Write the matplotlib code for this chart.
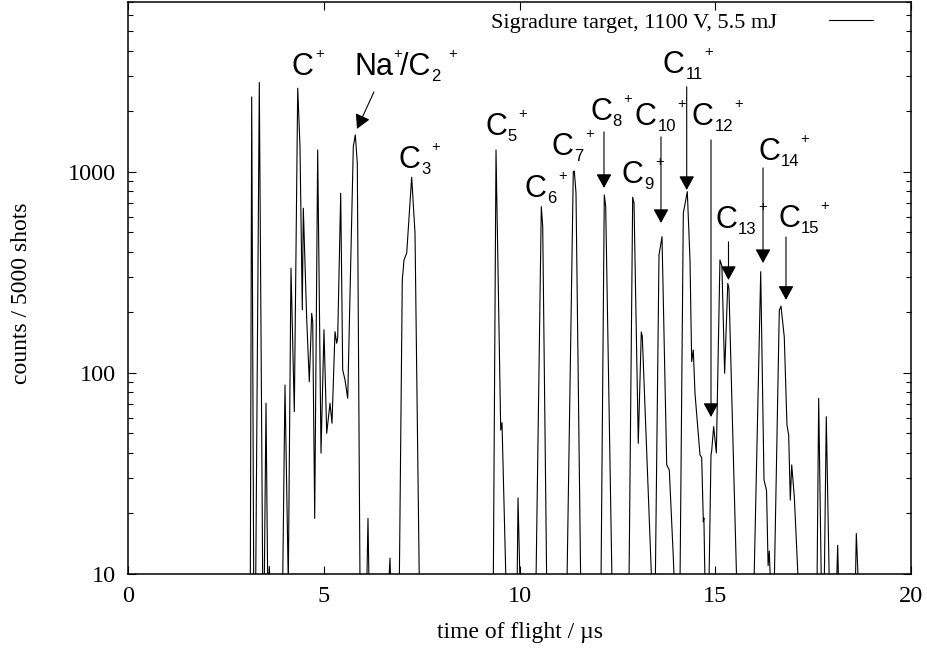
import matplotlib
matplotlib.use("Agg")
import matplotlib.pyplot as plt
from matplotlib.ticker import FixedLocator, LogLocator, NullFormatter
from matplotlib.transforms import ScaledTranslation

# Time-of-flight spectrum (µs, counts per 5000 shots); 9 marks the empty baseline
time_us = [
    0.0, 3.124, 3.160, 3.211, 3.262, 3.354, 3.441, 3.481, 3.525, 3.568,
    3.589, 3.609, 3.627, 3.951, 4.010, 4.094, 4.163, 4.248, 4.335, 4.393,
    4.452, 4.478, 4.565, 4.631, 4.692, 4.718, 4.769, 4.845, 4.930, 5.006,
    5.075, 5.160, 5.211, 5.287, 5.331, 5.356, 5.433, 5.484, 5.543, 5.612,
    5.755, 5.806, 5.857, 5.926, 6.100, 6.130, 6.156, 6.660, 6.692, 6.710,
    6.930, 7.006, 7.050, 7.119, 7.246, 7.331, 7.441, 9.331, 9.400, 9.520,
    9.553, 9.655, 9.940, 9.962, 10.013, 10.421, 10.557, 10.593, 10.695, 11.213,
    11.374, 11.400, 11.443, 11.563, 12.082, 12.166, 12.202, 12.363, 12.797, 12.891,
    12.925, 13.034, 13.111, 13.137, 13.377, 13.469, 13.563, 13.640, 13.760, 13.826,
    13.928, 13.954, 14.100, 14.184, 14.286, 14.355, 14.398, 14.439, 14.483, 14.610,
    14.654, 14.695, 14.710, 14.738, 14.840, 14.891, 14.909, 14.959, 15.028, 15.120,
    15.170, 15.240, 15.320, 15.350, 15.548, 15.990, 16.161, 16.245, 16.310, 16.350,
    16.380, 16.410, 16.508, 16.636, 16.679, 16.763, 16.832, 16.876, 16.917, 16.953,
    17.019, 17.121, 17.600, 17.642, 17.709, 17.785, 17.836, 17.913, 18.100, 18.127,
    18.150, 18.580, 18.603, 18.654, 20.0,
]
counts = [
    9, 9, 2361, 9, 9, 2782, 9, 9, 70.7, 9,
    9, 10.9, 9, 9, 87.1, 9, 332, 64.2, 2608, 1336,
    206, 660, 184, 90.5, 198, 180, 18.9, 1286, 39.9, 164,
    50.1, 70.7, 56.2, 160.5, 140.5, 150, 783, 103.5, 92.3, 74.8,
    1336, 1528, 1105, 9, 9, 18.9, 9, 9, 12.0, 9,
    9, 290, 365, 395, 941, 497, 9, 9, 1286, 52.0,
    56.6, 9, 9, 23.9, 9, 9, 672, 535, 9, 9,
    1003, 1010, 787, 9, 9, 769, 671, 9, 9, 748,
    701, 44.7, 160, 151.5, 9, 9, 386, 476, 34.9, 32.9,
    12.2, 9, 9, 623, 798, 365, 113.8, 130, 79, 39.1,
    38, 18.2, 19, 9, 9, 39, 41, 54.1, 40, 365,
    340, 99.7, 279, 262, 9, 9, 319, 29.4, 26, 11,
    13, 9, 9, 205, 215, 151, 55, 49, 23.3, 34.9,
    24.3, 9, 9, 74.8, 9, 9, 60.6, 9, 9, 13.9,
    9, 9, 15.9, 9, 9,
]

series_label = "Sigradure target, 1100 V, 5.5 mJ"
x_ticks = [0, 5, 10, 15, 20]
y_ticks = [10, 100, 1000]
y_tick_labels = ["10", "100", "1000"]

# Ion labels: (time, counts) of the label baseline, pieces of (text, role, gap in pt)
ion_labels = [
    (4.189, 3040, [("C", "m", 0), ("+", "p", 0.8)]),
    (5.798, 3040, [("Na", "m", 0), ("+", "p", -0.7), ("/C", "m", -1.0),
                   ("2", "b", 0.2), ("+", "p", 5.6)]),
    (6.909, 1047, [("C", "m", 0), ("3", "b", 0.4), ("+", "p", 1.1)]),
    (9.119, 1528, [("C", "m", 0), ("5", "b", 0.4), ("+", "p", 1.1)]),
    (10.140, 751, [("C", "m", 0), ("6", "b", 0.4), ("+", "p", 1.1)]),
    (10.830, 1216, [("C", "m", 0), ("7", "b", 0.4), ("+", "p", 1.1)]),
    (11.801, 1815, [("C", "m", 0), ("8", "b", 0.4), ("+", "p", 1.1)]),
    (12.618, 881, [("C", "m", 0), ("9", "b", 0.4), ("+", "p", 1.1)]),
    (12.950, 1714, [("C", "m", 0), ("10", "b", 0.4), ("+", "p", 1.1)]),
    (13.665, 3114, [("C", "m", 0), ("11", "b", 0.4), ("+", "p", 1.1)]),
    (14.406, 1714, [("C", "m", 0), ("12", "b", 0.4), ("+", "p", 1.1)]),
    (15.006, 526, [("C", "m", 0), ("13", "b", 0.4), ("+", "p", 1.1)]),
    (16.092, 1148, [("C", "m", 0), ("14", "b", 0.4), ("+", "p", 1.1)]),
    (16.603, 532, [("C", "m", 0), ("15", "b", 0.4), ("+", "p", 1.1)]),
]

# Arrows: start (time, counts) -> tip (time, counts)
arrows = [
    ((6.283, 2501), (5.849, 1637)),
    ((12.158, 1581), (12.158, 832)),
    ((13.614, 1493), (13.614, 557)),
    ((14.271, 2649), (14.271, 813)),
    ((14.891, 1443), (14.891, 60.4)),
    ((15.338, 449), (15.338, 290)),
    ((16.220, 1047), (16.220, 352)),
    ((16.807, 475), (16.807, 231)),
]

SERIF = "Liberation Serif"
SANS = "Liberation Sans"
SIZE = {"m": 22, "b": 12, "p": 10.5}
RISE = {"m": 0.0, "b": -4.3, "p": 12.1}

fig = plt.figure(figsize=(9.28, 6.53), dpi=100)
ax = fig.add_axes([128 / 928, 1 - 574 / 653, 783 / 928, 572 / 653])

ax.plot(time_us, counts, color="black", lw=0.8, label=series_label)
ax.set_yscale("log")
ax.set_xlim(0, 20)
ax.set_ylim(10, 7000)

ax.xaxis.set_major_locator(FixedLocator(x_ticks))
ax.set_xticklabels([str(v) for v in x_ticks])
ax.yaxis.set_major_locator(FixedLocator(y_ticks))
ax.set_yticklabels(y_tick_labels)
ax.yaxis.set_minor_locator(LogLocator(base=10, subs=range(2, 10)))
ax.yaxis.set_minor_formatter(NullFormatter())
ax.tick_params(which="both", direction="in", top=True, right=True, width=0.8)
ax.tick_params(which="major", length=6, pad=9, labelsize=17.5)
ax.tick_params(which="minor", length=3.5)
for lab in ax.get_xticklabels() + ax.get_yticklabels():
    lab.set_family(SERIF)
for sp in ax.spines.values():
    sp.set_linewidth(1.1)

ax.set_xlabel("time of flight / µs", family=SERIF, fontsize=17)
ax.set_ylabel("counts / 5000 shots", family=SERIF, fontsize=17)
ax.xaxis.set_label_coords(0.5006, -0.084)
ax.yaxis.set_label_coords(-0.122, 0.49)

leg = ax.legend(loc="center right", bbox_to_anchor=((873 - 128) / 783, 1 - 21 / 572),
                frameon=False, markerfirst=False, borderaxespad=0, borderpad=0,
                handlelength=2.0, handletextpad=2.3, prop={"family": SERIF, "size": 16})
for line in leg.get_lines():
    line.set_linewidth(0.8)

renderer = fig.canvas.get_renderer()


def ion_label(x, y, parts):
    dx = 0.0
    for text, role, gap in parts:
        dx += gap
        shift = ScaledTranslation(dx / 72, RISE[role] / 72, fig.dpi_scale_trans)
        t = ax.text(x, y, text, transform=ax.transData + shift, fontsize=SIZE[role],
                    family=SANS, ha="left", va="baseline")
        dx += t.get_window_extent(renderer).width * 72 / fig.dpi


for x, y, parts in ion_labels:
    ion_label(x, y, parts)

for start, tip in arrows:
    ax.annotate("", xy=tip, xytext=start,
                arrowprops=dict(arrowstyle="-|>,head_length=0.86,head_width=0.47",
                                color="black", lw=0.8, shrinkA=0, shrinkB=0,
                                mutation_scale=10))

fig.savefig("out.png", dpi=100)
